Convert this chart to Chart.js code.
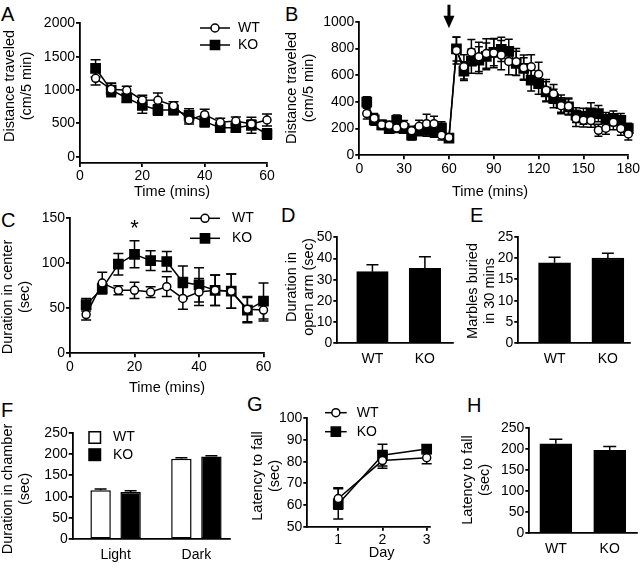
<!DOCTYPE html>
<html>
<head>
<meta charset="utf-8">
<script src="https://cdn.jsdelivr.net/npm/chart.js@4.4.0/dist/chart.umd.min.js"></script>
<style>
  html, body { margin: 0; padding: 0; background: #fff; overflow: hidden; }
  #fig { position: relative; width: 640px; height: 569px; }
  #fig canvas { position: absolute; }
  .tag { position: absolute; font: 20px "Liberation Sans", Arial, sans-serif; line-height: 20px; color: #000; }
</style>
</head>
<body>
<div id="fig">
  <div class="tag" style="left:1px;top:4px">A</div>
  <div class="tag" style="left:285px;top:4px">B</div>
  <div class="tag" style="left:1px;top:210px">C</div>
  <div class="tag" style="left:281px;top:205px">D</div>
  <div class="tag" style="left:470px;top:205px">E</div>
  <div class="tag" style="left:1px;top:400px">F</div>
  <div class="tag" style="left:247px;top:394px">G</div>
  <div class="tag" style="left:467px;top:395px">H</div>
</div>
<script>
// A - open field, distance per 5 min
const minsA = [5, 10, 15, 20, 25, 30, 35, 40, 45, 50, 55, 60];
const wtA = [1175, 1010, 995, 850, 845, 765, 550, 630, 515, 535, 490, 550];
const wtAErr = [100, 90, 60, 70, 110, 60, 60, 80, 60, 60, 60, 90];
const koA = [1325, 1000, 880, 770, 700, 700, 620, 525, 435, 435, 470, 340];
const koAErr = [130, 100, 60, 120, 80, 70, 100, 80, 60, 60, 120, 80];
const ticksAX = [0, 20, 40, 60];
const ticksAY = [0, 500, 1000, 1500, 2000];

// B - distance before / after injection
const minsB = [5, 10, 15, 20, 25, 30, 35, 40, 45, 50, 55, 60, 65, 70, 75, 80, 85, 90,
  95, 100, 105, 110, 115, 120, 125, 130, 135, 140, 145, 150, 155, 160, 165, 170, 175, 180];
const wtB = [312, 278, 228, 225, 205, 225, 183, 217, 237, 237, 150, 133, 784, 662, 772, 737, 762, 765,
  750, 703, 700, 656, 662, 606, 487, 460, 371, 368, 275, 262, 260, 187, 203, 247, 200, 160];
const wtBErr = [40, 35, 30, 30, 35, 35, 35, 45, 70, 55, 35, 25, 100, 90, 95, 110, 110, 110,
  110, 100, 100, 95, 90, 90, 80, 70, 60, 60, 60, 50, 50, 45, 45, 55, 50, 45];
const koB = [398, 265, 228, 200, 262, 200, 150, 187, 187, 175, 206, 128, 796, 630, 705, 712, 740, 770,
  793, 778, 688, 650, 562, 537, 475, 425, 387, 362, 300, 292, 318, 312, 270, 277, 262, 200];
const koBErr = [40, 40, 35, 35, 40, 35, 35, 40, 45, 40, 45, 30, 90, 70, 90, 100, 100, 100,
  90, 90, 90, 80, 80, 80, 75, 70, 65, 60, 55, 60, 75, 60, 50, 55, 50, 40];
const ticksBX = [0, 30, 60, 90, 120, 150, 180];
const ticksBY = [0, 200, 400, 600, 800, 1000];
const injectionAt = 60;

// C - time in center
const minsC = [5, 10, 15, 20, 25, 30, 35, 40, 45, 50, 55, 60];
const wtC = [43, 78, 70, 70, 68, 74, 61, 68, 70, 69, 49, 48];
const wtCErr = [6, 12, 5, 9, 6, 11, 12, 15, 17, 19, 14, 12];
const koC = [54, 72, 99, 110, 103, 102, 79, 76, 70, 69, 48, 58];
const koCErr = [7, 5, 12, 15, 11, 11, 18, 19, 17, 19, 14, 20];
const sigC = [20];
const ticksCX = [0, 20, 40, 60];
const ticksCY = [0, 50, 100, 150];

// D, E, H - two-group bars
const groups = ['WT', 'KO'];
const valD = [33.8, 35.4];
const errD = [3.2, 5.4];
const ticksDY = [0, 10, 20, 30, 40, 50];
const valE = [18.9, 20.0];
const errE = [1.3, 1.1];
const ticksEY = [0, 5, 10, 15, 20, 25];
const valH = [213, 197.6];
const errH = [11, 9];
const ticksHY = [0, 50, 100, 150, 200, 250];

// F - light / dark box
const chambers = ['Light', 'Dark'];
const wtF = [115, 189];
const wtFErr = [3, 2];
const koF = [111, 194];
const koFErr = [3, 2];
const ticksFY = [0, 50, 100, 150, 200, 250];

// G - rotarod
const days = [1, 2, 3];
const wtG = [63, 80.5, 81.8];
const wtGErr = [5, 3.5, 2.8];
const koG = [60.5, 83, 85.8];
const koGErr = [7, 5, 2];
const ticksGY = [50, 60, 70, 80, 90, 100];

const FAM = '"Liberation Sans", Arial, Helvetica, sans-serif';
const tickFont = {family: FAM, size: 14, weight: 'normal'};
const AXW = 1.8;
const fig = document.getElementById('fig');

Chart.defaults.animation = false;
Chart.defaults.events = [];
Chart.defaults.color = '#000';
Chart.defaults.font.family = FAM;
Chart.defaults.plugins.legend.display = false;
Chart.defaults.plugins.tooltip.enabled = false;

function drawErrors(chart, args, opts, both) {
  const ds = chart.data.datasets[args.index];
  if (!ds.errors) return;
  const ys = chart.scales.y, ctx = chart.ctx, w = opts.cap;
  ctx.save();
  ctx.strokeStyle = '#000';
  ctx.lineWidth = 1.5;
  args.meta.data.forEach((el, i) => {
    const v = ds.data[i].y, e = ds.errors[i];
    const top = ys.getPixelForValue(v + e);
    const bot = ys.getPixelForValue(both ? v - e : v);
    ctx.beginPath();
    ctx.moveTo(el.x, top); ctx.lineTo(el.x, bot);
    ctx.moveTo(el.x - w, top); ctx.lineTo(el.x + w, top);
    if (both) { ctx.moveTo(el.x - w, bot); ctx.lineTo(el.x + w, bot); }
    ctx.stroke();
  });
  ctx.restore();
}

const errorBars = {
  id: 'errorBars',
  beforeDatasetDraw(chart, args, opts) { if (chart.config.type === 'line') drawErrors(chart, args, opts, true); },
  afterDatasetDraw(chart, args, opts) { if (chart.config.type === 'bar') drawErrors(chart, args, opts, false); }
};

// axis titles placed where the figure has them (page coordinates)
const axisTitles = {
  id: 'axisTitles',
  afterDraw(chart, args, o) {
    const ctx = chart.ctx, ox = chart.canvas.offsetLeft, oy = chart.canvas.offsetTop;
    ctx.save();
    ctx.fillStyle = '#000';
    ctx.font = '14.5px ' + FAM;
    ctx.textAlign = 'center';
    ctx.textBaseline = 'middle';
    if (o.x) ctx.fillText(o.x.text, o.x.cx - ox, o.x.cy - oy);
    if (o.y) {
      ctx.translate(o.y.cx - ox, o.y.cy - oy);
      ctx.rotate(-Math.PI / 2);
      o.y.lines.forEach((s, i) => ctx.fillText(s, 0, i * 17));
    }
    ctx.restore();
  }
};

// legend drawn inside the plot, Prism style
const insetLegend = {
  id: 'insetLegend',
  afterDraw(chart, args, o) {
    if (!o.textX) return;
    const ctx = chart.ctx, ox = chart.canvas.offsetLeft, oy = chart.canvas.offsetTop;
    ctx.save();
    ctx.lineWidth = 1.5;
    ctx.strokeStyle = '#000';
    ctx.font = '14px ' + FAM;
    ctx.textBaseline = 'middle';
    chart.data.datasets.forEach((ds, i) => {
      const y = o.y + i * o.dy - oy, x = o.x - ox;
      if (o.box) {
        ctx.fillStyle = ds.backgroundColor;
        ctx.fillRect(x, y - o.box / 2, o.box, o.box);
        ctx.strokeRect(x, y - o.box / 2, o.box, o.box);
      } else {
        ctx.beginPath(); ctx.moveTo(x, y); ctx.lineTo(x + o.len, y); ctx.stroke();
        const cx = x + o.len / 2, r = ds.pointRadius;
        ctx.fillStyle = ds.pointBackgroundColor;
        ctx.beginPath();
        if (ds.pointStyle === 'rect') {
          const h = r * Math.SQRT1_2;
          ctx.rect(cx - h, y - h, 2 * h, 2 * h);
        } else {
          ctx.arc(cx, y, r, 0, Math.PI * 2);
        }
        ctx.fill(); ctx.stroke();
      }
      ctx.fillStyle = '#000';
      ctx.fillText(ds.label, o.textX - ox, y);
    });
    ctx.restore();
  }
};

function lineSet(label, xs, ys, errs, open) {
  return {
    label, errors: errs,
    data: xs.map((x, i) => ({x, y: ys[i]})),
    borderColor: '#000', borderWidth: 1.5, tension: 0, clip: false,
    backgroundColor: open ? '#fff' : '#000',
    pointStyle: open ? 'circle' : 'rect', pointRadius: open ? 4 : 6.5,
    pointBackgroundColor: open ? '#fff' : '#000', pointBorderColor: '#000', pointBorderWidth: 1.5
  };
}

function barSet(label, ys, errs, fill, extra) {
  return Object.assign({
    label, errors: errs,
    data: ys.map((y, i) => ({x: i + 1, y})),
    backgroundColor: fill, borderColor: '#000', borderWidth: 1.5, borderSkipped: false
  }, extra);
}

function scaleBase(min, max, ticks) {
  return {
    type: 'linear', min, max, offset: false,
    afterBuildTicks: s => { s.ticks = ticks.map(v => ({value: v})); },
    grid: {drawOnChartArea: false, color: '#000', lineWidth: AXW, tickLength: 4, offset: false},
    border: {color: '#000', width: AXW},
    ticks: {color: '#000', font: tickFont, padding: 1, autoSkip: false, maxRotation: 0, callback: v => v}
  };
}

function panel(p) {
  const [x0, y0, x1, y1] = p.box, [l, t, r, b] = p.area;
  const c = document.createElement('canvas');
  c.width = x1 - x0; c.height = y1 - y0;
  c.style.left = x0 + 'px'; c.style.top = y0 + 'px';
  fig.appendChild(c);

  const x = scaleBase(p.x.min, p.x.max, p.x.ticks);
  x.position = 'bottom';
  x.afterFit = s => { s.height = y1 - b; };
  if (p.x.labels) {
    x.ticks.callback = v => p.x.labels[v - 1];
    x.grid.display = false;
    x.ticks.padding = 3;
  }
  const y = scaleBase(p.y.min, p.y.max, p.y.ticks);
  y.position = 'left';
  y.afterFit = s => { s.width = l - x0; };

  return new Chart(c, {
    type: p.type,
    data: {datasets: p.datasets},
    options: {
      responsive: false,
      layout: {padding: {left: 0, top: t - y0, right: x1 - r, bottom: 0}},
      scales: {x, y},
      plugins: {errorBars: {cap: p.cap}, insetLegend: p.legend || {}, axisTitles: p.titles}
    },
    plugins: [errorBars, axisTitles, insetLegend].concat(p.extra || [])
  });
}

// A
panel({
  type: 'line', box: [0, 0, 285, 205], area: [80, 23.3, 267, 163], cap: 5,
  datasets: [lineSet('WT', minsA, wtA, wtAErr, true), lineSet('KO', minsA, koA, koAErr, false)],
  x: {min: 0, max: 60, ticks: ticksAX},
  y: {min: -95, max: 2000, ticks: ticksAY},
  titles: {x: {text: 'Time (mins)', cx: 172, cy: 192},
    y: {lines: ['Distance traveled', '(cm/5 min)'], cx: 10, cy: 86}},
  legend: {x: 200, len: 30, y: 28, dy: 17, textX: 238}
});

// B
panel({
  type: 'line', box: [285, 0, 645, 205], area: [359.3, 21.7, 628.3, 155.3], cap: 4,
  datasets: [lineSet('WT', minsB, wtB, wtBErr, true), lineSet('KO', minsB, koB, koBErr, false)],
  x: {min: 0, max: 180, ticks: ticksBX},
  y: {min: 0, max: 1000, ticks: ticksBY},
  titles: {x: {text: 'Time (mins)', cx: 490, cy: 192},
    y: {lines: ['Distance traveled', '(cm/5 min)'], cx: 292, cy: 88}},
  extra: [{
    id: 'arrow',
    afterDraw(ch) {
      const ctx = ch.ctx, x = ch.scales.x.getPixelForValue(injectionAt), top = ch.chartArea.top;
      ctx.save();
      ctx.fillStyle = '#000';
      ctx.fillRect(x - 1.5, top - 17, 3, 13);
      ctx.beginPath();
      ctx.moveTo(x - 5.5, top - 6); ctx.lineTo(x + 5.5, top - 6); ctx.lineTo(x, top + 6.5);
      ctx.closePath(); ctx.fill();
      ctx.restore();
    }
  }]
});

// C
panel({
  type: 'line', box: [0, 200, 285, 400], area: [70, 218.3, 263.5, 353.3], cap: 5,
  datasets: [lineSet('WT', minsC, wtC, wtCErr, true), lineSet('KO', minsC, koC, koCErr, false)],
  x: {min: 0, max: 60, ticks: ticksCX},
  y: {min: 0, max: 150, ticks: ticksCY},
  titles: {x: {text: 'Time (mins)', cx: 167, cy: 388},
    y: {lines: ['Duration in center', '(sec)'], cx: 8, cy: 297}},
  legend: {x: 190, len: 30, y: 218.3, dy: 20, textX: 232},
  extra: [{
    id: 'sigMark',
    afterDraw(ch) {
      const ctx = ch.ctx;
      ctx.save();
      ctx.font = '22px ' + FAM; ctx.textAlign = 'center'; ctx.fillStyle = '#000';
      sigC.forEach(t => ctx.fillText('*', ch.scales.x.getPixelForValue(t), ch.chartArea.top + 17));
      ctx.restore();
    }
  }]
});

// D
panel({
  type: 'bar', box: [285, 200, 460, 375], area: [337.3, 237.3, 452.7, 343.3], cap: 6,
  datasets: [barSet('D', valD, errD, '#000', {barThickness: 31.5})],
  x: {min: 0.33, max: 2.53, ticks: [1, 2], labels: groups},
  y: {min: 0, max: 50, ticks: ticksDY},
  titles: {y: {lines: ['Duration in', 'open arm (sec)'], cx: 291.7, cy: 287}}
});

// E
panel({
  type: 'bar', box: [462, 200, 640, 375], area: [518.3, 236.7, 630, 343.3], cap: 6,
  datasets: [barSet('E', valE, errE, '#000', {barThickness: 32})],
  x: {min: 0.32, max: 2.415, ticks: [1, 2], labels: groups},
  y: {min: 0, max: 25, ticks: ticksEY},
  titles: {y: {lines: ['Marbles buried', 'in 30 mins'], cx: 473.3, cy: 291}}
});

// F
panel({
  type: 'bar', box: [0, 395, 240, 569], area: [72.7, 432.7, 230, 539.3], cap: 6,
  datasets: [
    barSet('WT', wtF, wtFErr, '#fff', {categoryPercentage: 0.743, barPercentage: 0.68}),
    barSet('KO', koF, koFErr, '#000', {categoryPercentage: 0.743, barPercentage: 0.68})
  ],
  x: {min: 0.469, max: 2.416, ticks: [1, 2], labels: chambers},
  y: {min: 0, max: 250, ticks: ticksFY},
  titles: {y: {lines: ['Duration in chamber', '(sec)'], cx: 8, cy: 489}},
  legend: {box: 11.5, x: 89, y: 437.5, dy: 17.2, textX: 113}
});

// G
panel({
  type: 'line', box: [245, 395, 450, 569], area: [307.3, 418.3, 430, 526.7], cap: 5,
  datasets: [lineSet('WT', days, wtG, wtGErr, true), lineSet('KO', days, koG, koGErr, false)],
  x: {min: 0.3, max: 3.075, ticks: days},
  y: {min: 50, max: 100, ticks: ticksGY},
  titles: {x: {text: 'Day', cx: 381.7, cy: 553},
    y: {lines: ['Latency to fall', '(sec)'], cx: 258.3, cy: 476}},
  legend: {x: 325, len: 21.7, y: 412.7, dy: 19, textX: 356.7}
});

// H
panel({
  type: 'bar', box: [455, 395, 645, 569], area: [529.3, 428.3, 637, 533.3], cap: 6.5,
  datasets: [barSet('H', valH, errH, '#000', {barThickness: 32})],
  x: {min: 0.508, max: 2.506, ticks: [1, 2], labels: groups},
  y: {min: 0, max: 250, ticks: ticksHY},
  titles: {y: {lines: ['Latency to fall', '(sec)'], cx: 468.3, cy: 480}}
});
</script>
</body>
</html>
